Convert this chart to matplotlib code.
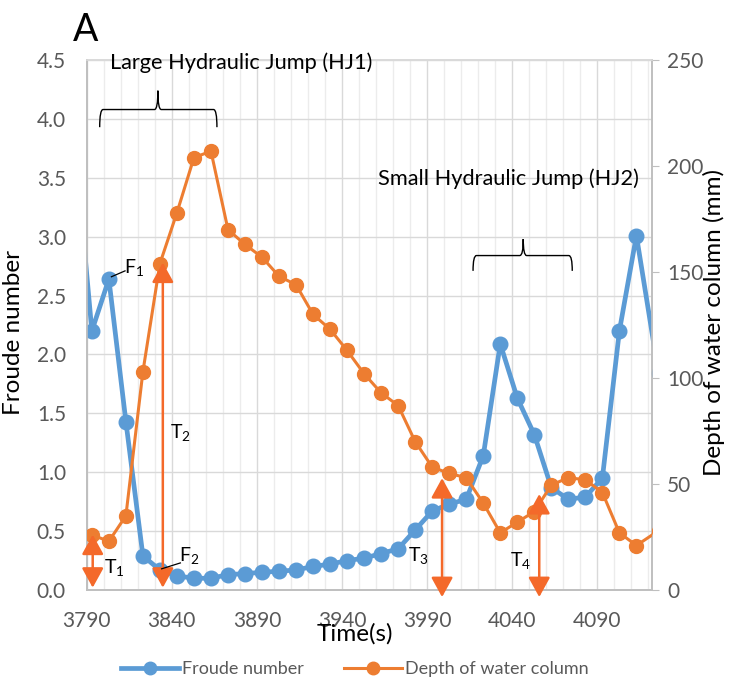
import matplotlib.pyplot as plt
from matplotlib.path import Path
from matplotlib.patches import PathPatch
from matplotlib.ticker import FixedLocator, MultipleLocator, FormatStrFormatter
from matplotlib.lines import Line2D

plt.rcParams['font.family'] = ['Lato', 'DejaVu Sans']
plt.rcParams['mathtext.fontset'] = 'custom'
plt.rcParams['mathtext.rm'] = 'Lato'
plt.rcParams['mathtext.it'] = 'Lato:italic'

# data (~10 s steps, first and last points fall just outside the axis)
time_s = [3783, 3793, 3803, 3813, 3823, 3833, 3843, 3853, 3863, 3873,
          3883, 3893, 3903, 3913, 3923, 3933, 3943, 3953, 3963, 3973,
          3983, 3993, 4003, 4013, 4023, 4033, 4043, 4053, 4063, 4073,
          4083, 4093, 4103, 4113, 4126]
froude = [3.80, 2.20, 2.64, 1.43, 0.29, 0.17, 0.12, 0.10, 0.10, 0.13,
          0.14, 0.15, 0.16, 0.17, 0.20, 0.22, 0.25, 0.27, 0.31, 0.35,
          0.51, 0.67, 0.73, 0.77, 1.14, 2.09, 1.63, 1.32, 0.87, 0.77,
          0.79, 0.95, 2.20, 3.01, 1.84]
depth_mm = [27, 26, 23, 35, 103, 154, 178, 204, 207, 170,
            163, 157, 148, 144, 130, 123, 113, 102, 93, 87,
            70, 58, 55, 53, 41, 27, 32, 37, 49.5, 53,
            52, 46, 27, 21, 28]
time_ticks = [3790, 3840, 3890, 3940, 3990, 4040, 4090]

# double arrows T1..T4 (time, froude top, froude bottom)
arrow_t = [3793.5, 3834.7, 3998.8, 4055.9]
arrow_top = [0.47, 2.78, 0.95, 0.815]
arrow_bot = [0.02, 0.02, -0.06, -0.06]
arrow_names = ['T$_1$', 'T$_2$', 'T$_3$', 'T$_4$']
arrow_label_xy = [(3806, 0.19), (3845, 1.34), (3985, 0.29), (4045, 0.25)]

blue = '#5B9BD5'
orange = '#ED7D31'
arrow_col = '#F4692A'
gray_txt = '#595959'

fig = plt.figure(figsize=(7.29, 6.81), dpi=100)
ax = fig.add_axes([0.119, 0.1336, 0.775, 0.7782])
ax2 = ax.twinx()

ax.plot(time_s, froude, color=blue, lw=3.4, marker='o', ms=10.5, zorder=3)
ax2.plot(time_s, depth_mm, color=orange, lw=2.2, marker='o', ms=10, zorder=3)

ax.set_xlim(3790, 4122)
ax.set_ylim(0, 4.5)
ax2.set_ylim(0, 250)
ax.xaxis.set_major_locator(FixedLocator(time_ticks))
ax.xaxis.set_minor_locator(MultipleLocator(10))
ax.yaxis.set_major_locator(MultipleLocator(0.5))
ax.yaxis.set_major_formatter(FormatStrFormatter('%.1f'))
ax2.yaxis.set_major_locator(MultipleLocator(50))

ax.grid(which='major', color='#D9D9D9', lw=1.0)
ax.grid(which='minor', axis='x', color='#ECECEC', lw=1.0)
ax.set_axisbelow(True)

for a in (ax, ax2):
    for s in a.spines.values():
        s.set_color('#BFBFBF')
        s.set_linewidth(1.2)
    a.spines['top'].set_color('#D9D9D9')
ax.tick_params(which='both', length=0, labelsize=15, labelcolor=gray_txt)
ax.tick_params(axis='x', pad=15)
ax.tick_params(axis='y', pad=15)
ax2.tick_params(length=5, color='#BFBFBF', labelsize=15, labelcolor=gray_txt, pad=6)

fig.text(0.019, 0.512, 'Froude number', rotation=90, ha='center', va='center', fontsize=17.5)
fig.text(0.980, 0.527, 'Depth of water column (mm)', rotation=90, ha='center', va='center', fontsize=17.5)
fig.text(0.487, 0.070, 'Time(s)', ha='center', va='center', fontsize=17.5)
fig.text(0.117, 0.956, 'A', ha='center', va='center', fontsize=27)

# arrows
for t, top, bot in zip(arrow_t, arrow_top, arrow_bot):
    ax2.annotate('', xy=(t, top), xytext=(t, bot), xycoords=ax.transData,
                 textcoords=ax.transData, annotation_clip=False,
                 arrowprops=dict(arrowstyle='<|-|>,head_length=0.6,head_width=0.33',
                                 color=arrow_col, lw=1.8, mutation_scale=20,
                                 shrinkA=0, shrinkB=0), zorder=5)
for name, (lx, ly) in zip(arrow_names, arrow_label_xy):
    ax2.text(lx, ly, name, transform=ax.transData, fontsize=14, ha='center', va='center', zorder=6)

# F1 / F2 markers
ax2.plot([3804.5, 3812.5], [2.66, 2.71], color='black', lw=0.9, transform=ax.transData, zorder=6)
ax2.text(3818, 2.74, 'F$_1$', transform=ax.transData, fontsize=14, ha='center', va='center', zorder=6)
ax2.plot([3834, 3845], [0.18, 0.23], color='black', lw=0.9, transform=ax.transData, zorder=6)
ax2.text(3850, 0.29, 'F$_2$', transform=ax.transData, fontsize=14, ha='center', va='center', zorder=6)


def brace(a, x0, x1, xm, y_end, y_h, y_tip, r):
    verts = [(x0, y_end), (x0, y_h), (x0 + r, y_h),
             (xm - r, y_h), (xm, y_h), (xm, y_tip),
             (xm, y_h), (xm + r, y_h),
             (x1 - r, y_h), (x1, y_h), (x1, y_end)]
    codes = [Path.MOVETO, Path.CURVE3, Path.CURVE3,
             Path.LINETO, Path.CURVE3, Path.CURVE3,
             Path.CURVE3, Path.CURVE3,
             Path.LINETO, Path.CURVE3, Path.CURVE3]
    a.add_patch(PathPatch(Path(verts, codes), fill=False, color='black', lw=1.0,
                          transform=ax.transData, clip_on=False, zorder=6))


brace(ax2, 3797.6, 3866.5, 3831.8, 3.93, 4.08, 4.24, 2.0)
brace(ax2, 4017.0, 4075.3, 4046.5, 2.71, 2.84, 2.98, 2.0)
ax2.text(3880.6, 4.48, 'Large Hydraulic Jump (HJ1)', transform=ax.transData,
         fontsize=15.7, ha='center', va='center', zorder=6)
ax2.text(4037.6, 3.49, 'Small Hydraulic Jump (HJ2)', transform=ax.transData,
         fontsize=15.7, ha='center', va='center', zorder=6)

handles = [Line2D([], [], color=blue, lw=3.4, marker='o', ms=9),
           Line2D([], [], color=orange, lw=2.2, marker='o', ms=9)]
fig.legend(handles, ['Froude number', 'Depth of water column'], loc='center',
           bbox_to_anchor=(0.487, 0.017), ncol=2, frameon=False, fontsize=13,
           labelcolor=gray_txt, handlelength=3.2, handletextpad=0.2, columnspacing=2.2)

fig.savefig('out.png', dpi=100)
